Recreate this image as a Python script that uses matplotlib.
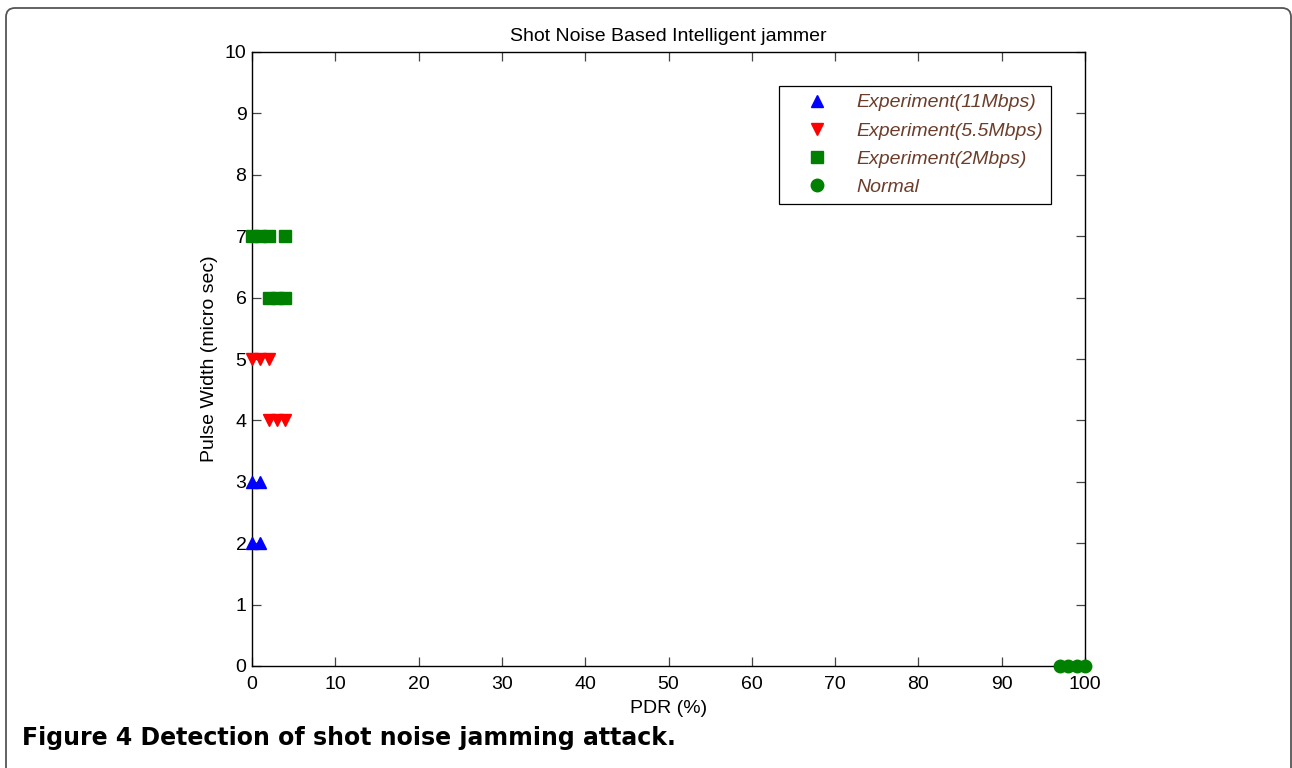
import matplotlib
matplotlib.use("Agg")
import matplotlib.pyplot as plt
from matplotlib.patches import FancyBboxPatch
from matplotlib.transforms import IdentityTransform

plt.rcParams['font.family'] = ['Liberation Sans', 'DejaVu Sans']

# Data
pdr_11_pw3 = [0, 1]
pdr_11_pw2 = [0, 1]
pdr_55_pw5 = [0, 1, 2]
pdr_55_pw4 = [2, 3, 4]
pdr_2_pw7 = [0, 1, 2, 4]
pdr_2_pw6 = [2, 3, 4]
pdr_normal = [97, 98, 99, 100]

x_ticks = [0, 10, 20, 30, 40, 50, 60, 70, 80, 90, 100]
y_ticks = list(range(0, 11))

W, H = 1292, 768
fig = plt.figure(figsize=(W / 100, H / 100), dpi=100)
fig.patch.set_facecolor('white')

# Rounded frame
frame = FancyBboxPatch((6, -30), 1285, 768 - 8 + 30,
                       boxstyle="round,pad=0,rounding_size=9",
                       transform=IdentityTransform(), facecolor='none',
                       edgecolor='#555555', linewidth=1.3)
fig.patches.append(frame)

ax = fig.add_axes([252 / W, 1 - 666 / H, (1085 - 252) / W, (666 - 52) / H])

fs = 14
ms = 9
ax.plot(pdr_11_pw3, [3] * len(pdr_11_pw3), '^', color='blue', ms=ms, mec='blue',
        clip_on=False, zorder=5, label='Experiment(11Mbps)')
ax.plot(pdr_11_pw2, [2] * len(pdr_11_pw2), '^', color='blue', ms=ms, mec='blue',
        clip_on=False, zorder=5)
ax.plot(pdr_55_pw5, [5] * len(pdr_55_pw5), 'v', color='red', ms=ms, mec='red',
        clip_on=False, zorder=5, label='Experiment(5.5Mbps)')
ax.plot(pdr_55_pw4, [4] * len(pdr_55_pw4), 'v', color='red', ms=ms, mec='red',
        clip_on=False, zorder=5)
ax.plot(pdr_2_pw7, [7] * len(pdr_2_pw7), 's', color='green', ms=ms - 0.5, mec='green',
        clip_on=False, zorder=5, label='Experiment(2Mbps)')
ax.plot(pdr_2_pw6, [6] * len(pdr_2_pw6), 's', color='green', ms=ms - 0.5, mec='green',
        clip_on=False, zorder=5)
ax.plot(pdr_normal, [0] * len(pdr_normal), 'o', color='green', ms=ms, mec='green',
        clip_on=False, zorder=5, label='Normal')

ax.set_xlim(0, 100)
ax.set_ylim(0, 10)
ax.set_xticks(x_ticks)
ax.set_yticks(y_ticks)
ax.tick_params(direction='in', top=True, right=True, length=6.5, width=0.9,
               labelsize=fs, color='#444444')
ax.tick_params(axis='x', pad=7)
ax.tick_params(axis='y', pad=4)
for s in ax.spines.values():
    s.set_linewidth(1.0)

ax.set_title('Shot Noise Based Intelligent jammer', fontsize=fs, pad=8)
ax.set_xlabel('PDR (%)', fontsize=fs, labelpad=5)
ax.set_ylabel('Pulse Width (micro sec)', fontsize=fs, labelpad=5)

leg = ax.legend(loc='upper right', bbox_to_anchor=(1051 / W, 1 - 86 / H),
                bbox_transform=fig.transFigure, borderaxespad=0,
                fancybox=False, edgecolor='black', framealpha=1,
                prop={'style': 'italic', 'size': fs}, handletextpad=0.5,
                borderpad=0.4, labelspacing=0.55, handlelength=3.1)
leg.get_frame().set_linewidth(0.9)
for t in leg.get_texts():
    t.set_color('#6b3d2a')

# Caption (fit to the reference width)
cap_y = 1 - 745 / H
cap = fig.text(22 / W, cap_y, 'Figure 4 Detection of shot noise jamming attack.',
               fontsize=15, fontweight='bold', family=['DejaVu Sans'])
fig.canvas.draw()
w = cap.get_window_extent().width
cap.set_fontsize(min(17, 15 * 686 / w))

fig.savefig('out.png', dpi=100, facecolor='white')
